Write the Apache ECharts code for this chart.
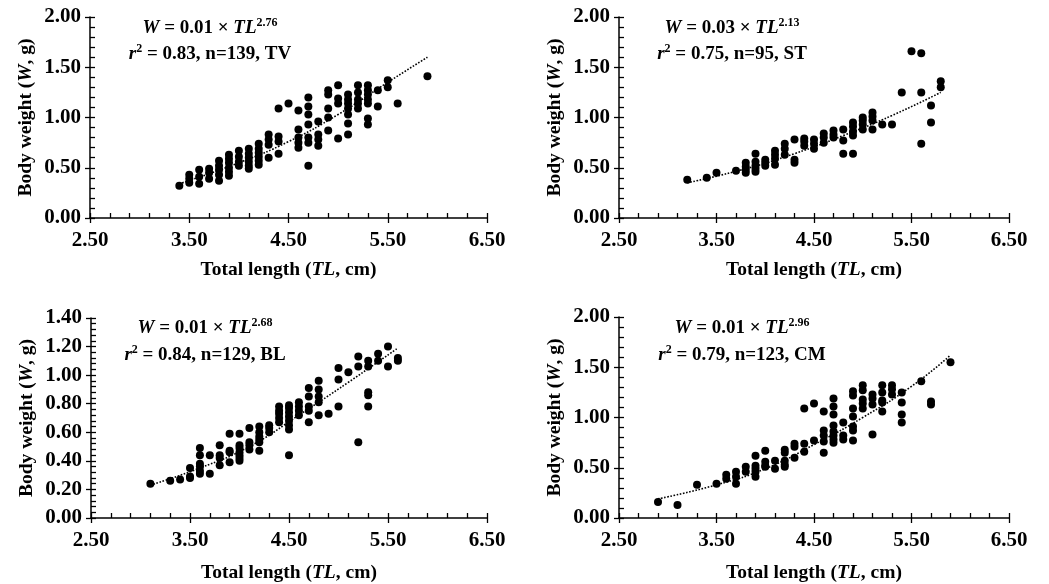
<!DOCTYPE html>
<html>
<head>
    <meta charset="UTF-8">
    <title>Length-weight</title>
    <script src="https://cdn.jsdelivr.net/npm/echarts@6/dist/echarts.min.js"></script>
    <style>
        body { margin: 0; background: #fff; }
        #chart { width: 1049px; height: 584px; }
    </style>
</head>
<body>
<div id="chart"></div>
<script>
// [TL, W], one array per species
var tvPoints = [
  [3.4,0.32],[3.5,0.43],[3.5,0.39],[3.5,0.35],[3.6,0.48],[3.6,0.41],[3.6,0.34],
  [3.7,0.49],[3.7,0.45],[3.7,0.39],[3.8,0.57],[3.8,0.52],[3.8,0.48],[3.8,0.43],[3.8,0.37],
  [3.9,0.63],[3.9,0.59],[3.9,0.55],[3.9,0.50],[3.9,0.46],[3.9,0.42],
  [4.0,0.67],[4.0,0.61],[4.0,0.56],[4.0,0.52],
  [4.1,0.69],[4.1,0.64],[4.1,0.60],[4.1,0.56],[4.1,0.52],[4.1,0.49],
  [4.2,0.74],[4.2,0.69],[4.2,0.65],[4.2,0.61],[4.2,0.57],[4.2,0.53],
  [4.3,0.83],[4.3,0.78],[4.3,0.73],[4.3,0.60],
  [4.4,1.09],[4.4,0.81],[4.4,0.76],[4.4,0.64],[4.5,1.14],
  [4.6,1.07],[4.6,0.88],[4.6,0.80],[4.6,0.75],[4.6,0.70],
  [4.7,1.20],[4.7,1.11],[4.7,1.03],[4.7,0.93],[4.7,0.80],[4.7,0.75],[4.7,0.52],
  [4.8,0.96],[4.8,0.83],[4.8,0.78],[4.8,0.72],
  [4.9,1.27],[4.9,1.23],[4.9,1.09],[4.9,1.00],[4.9,0.87],
  [5.0,1.32],[5.0,1.19],[5.0,1.14],[5.0,0.79],
  [5.1,1.23],[5.1,1.18],[5.1,1.14],[5.1,1.09],[5.1,1.03],[5.1,0.94],[5.1,0.83],
  [5.2,1.32],[5.2,1.25],[5.2,1.18],[5.2,1.14],[5.2,1.09],
  [5.3,1.32],[5.3,1.27],[5.3,1.23],[5.3,1.18],[5.3,1.14],[5.3,0.99],[5.3,0.93],
  [5.4,1.27],[5.4,1.11],[5.5,1.37],[5.5,1.30],[5.6,1.14],[5.9,1.41]
];
var stPoints = [
  [3.2,0.38],[3.4,0.40],[3.5,0.45],[3.7,0.47],
  [3.8,0.55],[3.8,0.51],[3.8,0.48],[3.8,0.45],
  [3.9,0.64],[3.9,0.56],[3.9,0.52],[3.9,0.49],[3.9,0.46],
  [4.0,0.58],[4.0,0.55],[4.0,0.52],
  [4.1,0.67],[4.1,0.63],[4.1,0.59],[4.1,0.53],
  [4.2,0.74],[4.2,0.69],[4.2,0.63],
  [4.3,0.78],[4.3,0.58],[4.3,0.55],
  [4.4,0.79],[4.4,0.76],[4.4,0.72],
  [4.5,0.78],[4.5,0.74],[4.5,0.69],
  [4.6,0.84],[4.6,0.80],[4.6,0.75],
  [4.7,0.87],[4.7,0.83],[4.7,0.80],
  [4.8,0.88],[4.8,0.77],[4.8,0.64],
  [4.9,0.95],[4.9,0.91],[4.9,0.86],[4.9,0.82],[4.9,0.64],
  [5.0,1.00],[5.0,0.97],[5.0,0.93],[5.0,0.88],
  [5.1,1.05],[5.1,1.01],[5.1,0.97],[5.1,0.88],
  [5.2,0.93],[5.3,0.93],[5.4,1.25],[5.5,1.66],
  [5.6,1.64],[5.6,1.25],[5.6,0.74],[5.7,1.12],[5.7,0.95],[5.8,1.36],[5.8,1.30]
];
var blPoints = [
  [3.1,0.24],[3.3,0.26],[3.4,0.27],[3.5,0.35],[3.5,0.29],[3.5,0.28],
  [3.6,0.49],[3.6,0.44],[3.6,0.38],[3.6,0.36],[3.6,0.33],[3.6,0.31],
  [3.7,0.44],[3.7,0.31],
  [3.8,0.51],[3.8,0.44],[3.8,0.42],[3.8,0.37],
  [3.9,0.59],[3.9,0.47],[3.9,0.46],[3.9,0.39],
  [4.0,0.59],[4.0,0.51],[4.0,0.49],[4.0,0.46],[4.0,0.44],[4.0,0.42],[4.0,0.40],
  [4.1,0.63],[4.1,0.53],[4.1,0.51],[4.1,0.48],
  [4.2,0.64],[4.2,0.60],[4.2,0.57],[4.2,0.55],[4.2,0.53],[4.2,0.47],
  [4.3,0.65],[4.3,0.63],[4.3,0.60],
  [4.4,0.78],[4.4,0.75],[4.4,0.73],[4.4,0.70],[4.4,0.67],
  [4.5,0.79],[4.5,0.77],[4.5,0.74],[4.5,0.71],[4.5,0.68],[4.5,0.65],[4.5,0.62],[4.5,0.44],
  [4.6,0.81],[4.6,0.78],[4.6,0.75],[4.6,0.72],
  [4.7,0.91],[4.7,0.85],[4.7,0.78],[4.7,0.75],[4.7,0.67],
  [4.8,0.96],[4.8,0.90],[4.8,0.85],[4.8,0.81],[4.8,0.72],
  [4.9,0.73],[5.0,1.05],[5.0,0.97],[5.0,0.78],[5.1,1.02],
  [5.2,1.13],[5.2,1.06],[5.2,0.53],
  [5.3,1.10],[5.3,1.06],[5.3,0.88],[5.3,0.86],[5.3,0.78],
  [5.4,1.15],[5.4,1.10],[5.5,1.20],[5.5,1.06],[5.6,1.12],[5.6,1.10]
];
var cmPoints = [
  [2.9,0.16],[3.1,0.13],[3.3,0.33],[3.5,0.34],[3.6,0.43],[3.6,0.39],
  [3.7,0.46],[3.7,0.41],[3.7,0.34],[3.8,0.51],[3.8,0.46],
  [3.9,0.62],[3.9,0.52],[3.9,0.49],[3.9,0.46],[3.9,0.41],
  [4.0,0.67],[4.0,0.56],[4.0,0.52],[4.0,0.51],[4.1,0.57],[4.1,0.49],
  [4.2,0.68],[4.2,0.65],[4.2,0.57],[4.2,0.53],[4.2,0.51],
  [4.3,0.74],[4.3,0.71],[4.3,0.60],[4.4,1.09],[4.4,0.74],[4.4,0.66],
  [4.5,1.14],[4.5,0.77],
  [4.6,1.06],[4.6,0.87],[4.6,0.82],[4.6,0.76],[4.6,0.65],
  [4.7,1.19],[4.7,1.11],[4.7,1.03],[4.7,0.92],[4.7,0.86],[4.7,0.82],[4.7,0.78],[4.7,0.75],
  [4.8,0.95],[4.8,0.82],[4.8,0.78],
  [4.9,1.26],[4.9,1.22],[4.9,1.09],[4.9,1.01],[4.9,0.91],[4.9,0.87],[4.9,0.77],
  [5.0,1.32],[5.0,1.27],[5.0,1.18],[5.0,1.14],[5.0,1.09],
  [5.1,1.23],[5.1,1.19],[5.1,1.13],[5.1,0.83],
  [5.2,1.32],[5.2,1.25],[5.2,1.17],[5.2,1.15],[5.2,1.06],
  [5.3,1.32],[5.3,1.28],[5.3,1.23],
  [5.4,1.25],[5.4,1.15],[5.4,1.03],[5.4,0.95],
  [5.6,1.36],[5.7,1.16],[5.7,1.13],[5.9,1.55]
];
// dotted fitted curves, read as points along the drawn line
var tvTrend = [[3.4,0.34],[4.0,0.55],[4.5,0.76],[5.0,1.03],[5.5,1.35],[5.9,1.60]];
var stTrend = [[3.2,0.35],[3.8,0.49],[4.3,0.64],[4.8,0.82],[5.3,1.02],[5.8,1.25]];
var blTrend = [[3.1,0.23],[3.6,0.35],[4.1,0.50],[4.6,0.72],[5.1,0.95],[5.6,1.19]];
var cmTrend = [[2.9,0.19],[3.5,0.33],[4.0,0.49],[4.5,0.73],[5.0,1.00],[5.5,1.31],[5.9,1.62]];

var panelEq = [
  ['0.01', '2.76', '0.83', '139', 'TV'],
  ['0.03', '2.13', '0.75', '95', 'ST'],
  ['0.01', '2.68', '0.84', '129', 'BL'],
  ['0.01', '2.96', '0.79', '123', 'CM']
];
var yMax = [2, 2, 1.4, 2];
var yStep = [0.5, 0.5, 0.2, 0.5];

var FONT = '"Liberation Serif", "Times New Roman", serif';
var grids = [
  {left: 90, top: 17, width: 397, height: 201},
  {left: 619, top: 17, width: 390, height: 201},
  {left: 91, top: 318, width: 396, height: 200},
  {left: 619, top: 317, width: 390, height: 201}
];
var eqPos = [[210, 28, 54], [732, 28, 54], [205, 328, 355], [742, 328, 355]];
var xNameGap = [40, 40, 43, 43];

function richSet(size) {
  return {
    n: {fontFamily: FONT, fontWeight: 'bold', fontSize: size, color: '#000', lineHeight: size + 4},
    i: {fontFamily: FONT, fontWeight: 'bold', fontStyle: 'italic', fontSize: size, color: '#000', lineHeight: size + 4},
    s: {fontFamily: FONT, fontWeight: 'bold', fontSize: Math.round(size * 0.62), color: '#000', lineHeight: 10, verticalAlign: 'top'}
  };
}
var eqRich = richSet(19);
var nameRich = richSet(19.5);

var fmt = function (v) { return v.toFixed(2); };
var xAxes = [], yAxes = [], series = [], graphics = [];
var allPoints = [tvPoints, stPoints, blPoints, cmPoints];
var allTrends = [tvTrend, stTrend, blTrend, cmTrend];

for (var k = 0; k < 4; k++) {
  // main axes: labels, inside ticks and minor ticks
  xAxes.push({
    gridIndex: k, type: 'value', min: 2.5, max: 6.5, interval: 1,
    name: '{n|Total length (}{i|TL}{n|, cm)}', nameLocation: 'middle', nameGap: xNameGap[k],
    nameTextStyle: {rich: nameRich},
    axisLine: {lineStyle: {color: '#000', width: 1.5}},
    axisTick: {inside: true, length: 5, lineStyle: {color: '#000', width: 1.3}},
    minorTick: {show: true, splitNumber: 5, length: 5, lineStyle: {color: '#000', width: 1.3}},
    axisLabel: {formatter: fmt, color: '#000', fontFamily: FONT, fontWeight: 'bold', fontSize: 21, margin: 12},
    splitLine: {show: false}
  });
  yAxes.push({
    gridIndex: k, type: 'value', min: 0, max: yMax[k], interval: yStep[k],
    name: '{n|Body weight (}{i|W}{n|, g)}', nameLocation: 'middle', nameGap: 52, nameRotate: 90,
    nameTextStyle: {rich: nameRich},
    axisLine: {lineStyle: {color: '#000', width: 1.5}},
    axisTick: {inside: true, length: 5, lineStyle: {color: '#000', width: 1.3}},
    minorTick: {show: true, splitNumber: 5, length: 5, lineStyle: {color: '#000', width: 1.3}},
    axisLabel: {formatter: fmt, color: '#000', fontFamily: FONT, fontWeight: 'bold', fontSize: 21, margin: 9},
    splitLine: {show: false}
  });
  series.push({
    type: 'scatter', xAxisIndex: 2 * k, yAxisIndex: 2 * k, data: allPoints[k],
    symbolSize: 8, itemStyle: {color: '#000', opacity: 1}, silent: true, z: 3
  });
  series.push({
    type: 'line', xAxisIndex: 2 * k, yAxisIndex: 2 * k, data: allTrends[k], smooth: true,
    symbol: 'none', lineStyle: {color: '#000', width: 1.6, type: 'dotted'}, silent: true, z: 2
  });
  // twin axes only for the outer half of the major ticks
  xAxes.push({
    gridIndex: k, type: 'value', min: 2.5, max: 6.5, interval: 1, position: 'bottom',
    axisLine: {show: false}, axisLabel: {show: false}, splitLine: {show: false},
    axisTick: {inside: false, length: 5, lineStyle: {color: '#000', width: 1.3}}
  });
  yAxes.push({
    gridIndex: k, type: 'value', min: 0, max: yMax[k], interval: yStep[k], position: 'left',
    axisLine: {show: false}, axisLabel: {show: false}, splitLine: {show: false},
    axisTick: {inside: false, length: 5, lineStyle: {color: '#000', width: 1.3}}
  });

  var e = panelEq[k], p = eqPos[k];
  graphics.push({
    type: 'text', x: p[0], y: p[1], silent: true,
    style: {text: '{i|W}{n| = ' + e[0] + ' × }{i|TL}{s|' + e[1] + '}', rich: eqRich, align: 'center', verticalAlign: 'middle'}
  });
  graphics.push({
    type: 'text', x: p[0], y: p[2], silent: true,
    style: {text: '{i|r}{s|2}{n| = ' + e[2] + ', n=' + e[3] + ', ' + e[4] + '}', rich: eqRich, align: 'center', verticalAlign: 'middle'}
  });
}

var chart = echarts.init(document.getElementById('chart'), null, {renderer: 'canvas'});
chart.setOption({
  backgroundColor: '#fff',
  animation: false,
  grid: grids,
  xAxis: xAxes,
  yAxis: yAxes,
  series: series,
  graphic: graphics
});
</script>
</body>
</html>
